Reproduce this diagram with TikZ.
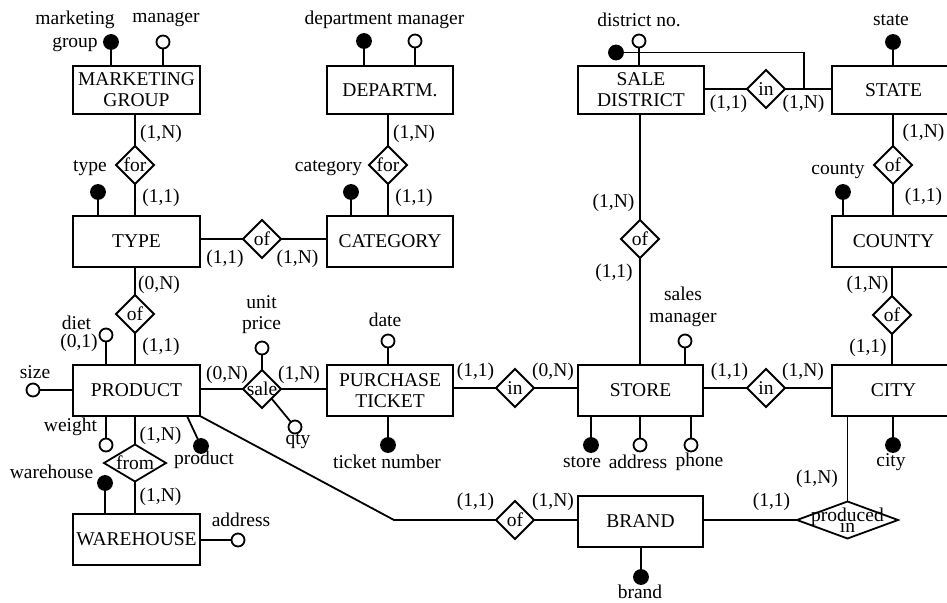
\documentclass[tikz,border=0pt]{standalone}
\usepackage{fontspec}
\setmainfont{Liberation Serif}
\usetikzlibrary{shapes.geometric}
\begin{document}
\begin{tikzpicture}[x=1pt,y=-1pt, line width=1.8pt,
  every node/.style={inner sep=0pt, outer sep=0pt},
  ent/.style={draw, rectangle, minimum width=127, minimum height=51, align=center, fill=white},
  rel/.style={draw, diamond, minimum width=38, minimum height=38, fill=white},
  keyatt/.style={draw, circle, fill=black, minimum size=14},
  att/.style={draw, circle, fill=white, minimum size=13},
  two/.style={align=center},
  font=\fontsize{19.5}{21}\selectfont]
\useasboundingbox (0,0) rectangle (947,602);
\clip (0,0) rectangle (947,602);

% ---------- entities ----------
\node[ent, minimum height=48] (mg) at (136.5,90) {MARKETING\\GROUP};
\node[ent, minimum height=48, minimum width=126] (dept) at (390,90) {DEPARTM.};
\node[ent, minimum height=48, minimum width=126] (sd) at (641,90) {SALE\\DISTRICT};
\node[ent, minimum height=48, minimum width=123] (state) at (893.5,90) {STATE};
\node[ent] (type) at (136.5,241.5) {TYPE};
\node[ent, minimum width=126] (cat) at (390,241.5) {CATEGORY};
\node[ent, minimum width=123] (county) at (893.5,241.5) {COUNTY};
\node[ent] (prod) at (136.5,390.5) {PRODUCT};
\node[ent, minimum width=126] (pt) at (390,390.5) {PURCHASE\\TICKET};
\node[ent, minimum width=125] (store) at (640.5,390.5) {STORE};
\node[ent, minimum width=123] (city) at (893.5,390.5) {CITY};
\node[ent] (wh) at (136.5,539.5) {WAREHOUSE};
\node[ent, minimum width=125] (brand) at (640.5,521.5) {BRAND};

% ---------- relationships ----------
\node[rel, label=center:for] (for1) at (135,165) {};
\node[rel, label=center:for] (for2) at (388,165) {};
\node[rel, label=center:of] (oftc) at (262,239) {};
\node[rel, label=center:in] (insd) at (766,89) {};
\node[rel, label=center:of] (ofsc) at (893,165) {};
\node[rel, label=center:of] (ofss) at (640,239) {};
\node[rel, label=center:of] (oftp) at (135,314) {};
\node[rel, label=center:of] (ofcc) at (892,315) {};
\node[rel, label=center:sale] (sale) at (262,389) {};
\node[rel, label=center:in] (inps) at (515,388) {};
\node[rel, label=center:in] (insc) at (766,388) {};
\node[rel, minimum width=62, minimum height=37, label=center:from] (from) at (135,463) {};
\node[rel, label=center:of] (ofpb) at (515,520) {};
\node[rel, minimum width=101, minimum height=37,
      label={[align=center]center:produced\\[-10pt]in}] (prin) at (847.5,520) {};

% ---------- relationship connectors ----------
\draw (for1.north) -- (for1.north |- mg.south);
\draw (for1.south) -- (for1.south |- type.north);
\draw (for2.north) -- (for2.north |- dept.south);
\draw (for2.south) -- (for2.south |- cat.north);
\draw (oftc.west) -- (oftc.west -| type.east);
\draw (oftc.east) -- (oftc.east -| cat.west);
\draw (insd.west) -- (insd.west -| sd.east);
\draw (insd.east) -- (insd.east -| state.west);
\draw (ofsc.north) -- (ofsc.north |- state.south);
\draw (ofsc.south) -- (ofsc.south |- county.north);
\draw (ofss.north) -- (ofss.north |- sd.south);
\draw (ofss.south) -- (ofss.south |- store.north);
\draw (oftp.north) -- (oftp.north |- type.south);
\draw (oftp.south) -- (oftp.south |- prod.north);
\draw (ofcc.north) -- (ofcc.north |- county.south);
\draw (ofcc.south) -- (ofcc.south |- city.north);
\draw (sale.west) -- (sale.west -| prod.east);
\draw (sale.east) -- (sale.east -| pt.west);
\draw (inps.west) -- (inps.west -| pt.east);
\draw (inps.east) -- (inps.east -| store.west);
\draw (insc.west) -- (insc.west -| store.east);
\draw (insc.east) -- (insc.east -| city.west);
\draw (from.north) -- (from.north |- prod.south);
\draw (from.south) -- (from.south |- wh.north);
\coordinate (pbend) at (394,520);
\draw (prod.south east) -- (pbend) -- (ofpb.west);
\draw (ofpb.east) -- (ofpb.east -| brand.west);
\draw (prin.west) -- (prin.west -| brand.east);
\draw (prin.north) -- (prin.north |- city.south);

% ---------- attributes ----------
% marketing group
\node[keyatt] (mgk) at (111,42) {};
\node[att] (mgm) at (163,42) {};
\draw (mgk) -- (mgk |- mg.north);
\draw (mgm) -- (mgm |- mg.north);
\node[two] (tmgk) at (75,31.5) {marketing\\[2pt]group};
\node (tmgm) at (166,20) {manager};
% department
\node[keyatt] (dk) at (364,41) {};
\node[att] (dm) at (415,41) {};
\draw (dk) -- (dk |- dept.north);
\draw (dm) -- (dm |- dept.north);
\node (tdept) at (384.5,20) {department manager};
% sale district
\node[att] (sdo) at (639,41) {};
\node[keyatt] (sdk) at (616,52.5) {};
\coordinate (sdj) at (804,89);
\draw (sdo) -- (sdo |- sd.north);
\draw (sdk) -| (sdj);
\node (tsd) at (639,20) {district no.};
% state
\node[keyatt] (stk) at (893,42) {};
\draw (stk) -- (stk |- state.north);
\node (tst) at (891,20) {state};
% type
\node[keyatt] (tyk) at (98,192) {};
\draw (tyk) -- (tyk |- type.north);
\node (tty) at (90,168) {type};
% category
\node[keyatt] (cak) at (351,192) {};
\draw (cak) -- (cak |- cat.north);
\node (tca) at (328.5,168) {category};
% county
\node[keyatt] (cok) at (843,192) {};
\draw (cok) -- (cok |- county.north);
\node (tco) at (838,171) {county};
% product
\node[att] (diet) at (106,335) {};
\draw (diet) -- (diet |- prod.north);
\node (tdiet) at (76.5,323) {diet};
\node (tdietc) at (79,343) {(0,1)};
\node[att] (size) at (33,390) {};
\draw (size) -- (size -| prod.west);
\node (tsize) at (35,372) {size};
\node[att] (weight) at (106,445) {};
\draw (weight) -- (weight |- prod.south);
\node (tweight) at (70.5,427) {weight};
\node[keyatt] (prk) at (201,446) {};
\draw ([xshift=50.5pt]prod.south) -- (prk);
\node (tprk) at (204,460) {product};
% warehouse
\node[keyatt] (whk) at (105,483) {};
\draw (whk) -- (whk |- wh.north);
\node (twhk) at (51.5,472) {warehouse};
\node[att] (wha) at (238,540) {};
\draw (wha) -- (wha -| wh.east);
\node (twha) at (241,520) {address};
% sale
\node[att] (up) at (262,348) {};
\draw (up) -- (sale.north);
\node[two] (tup) at (261.5,314.5) {unit\\price};
\node[att] (qty) at (295,427) {};
\draw (sale.south east) -- (qty);
\node (tqty) at (298,441) {qty};
% purchase ticket
\node[att] (date) at (388,341) {};
\draw (date) -- (date |- pt.north);
\node (tdate) at (385,320) {date};
\node[keyatt] (tn) at (388,445) {};
\draw (tn) -- (tn |- pt.south);
\node (ttn) at (387,462) {ticket number};
% store
\node[att] (sm) at (685,341) {};
\draw (sm) -- (sm |- store.north);
\node[two] (tsm) at (683,307) {sales\\[1pt]manager};
\node[keyatt] (stok) at (591,445) {};
\node[att] (stoa) at (640,445) {};
\node[att] (stop) at (691,445) {};
\draw (stok) -- (stok |- store.south);
\draw (stoa) -- (stoa |- store.south);
\draw (stop) -- (stop |- store.south);
\node (tstok) at (582,462) {store};
\node (tstoa) at (638,462) {address};
\node (tstop) at (699.5,462) {phone};
% city
\node[keyatt] (cik) at (893,445) {};
\draw (cik) -- (cik |- city.south);
\node (tcik) at (891,462) {city};
% brand
\node[keyatt] (brk) at (641,577) {};
\draw (brk) -- (brk |- brand.south);
\node (tbrk) at (640,592) {brand};

% ---------- cardinalities ----------
\node (c1) at (161,134) {(1,N)};
\node (c2) at (161,198) {(1,1)};
\node (c3) at (414,134) {(1,N)};
\node (c4) at (414,198) {(1,1)};
\node (c5) at (225,259) {(1,1)};
\node (c6) at (297.5,259) {(1,N)};
\node (c7) at (159,285) {(0,N)};
\node (c8) at (161,347) {(1,1)};
\node (c9) at (227,375) {(0,N)};
\node (c10) at (299,375) {(1,N)};
\node (c11) at (160.5,436) {(1,N)};
\node (c12) at (160.5,497) {(1,N)};
\node (c13) at (475.5,372) {(1,1)};
\node (c14) at (553,372) {(0,N)};
\node (c15) at (475.5,502) {(1,1)};
\node (c16) at (553,502) {(1,N)};
\node (c17) at (728.5,104) {(1,1)};
\node (c18) at (803.5,104) {(1,N)};
\node (c19) at (923.5,133) {(1,N)};
\node (c20) at (923.5,197) {(1,1)};
\node (c21) at (613.5,203) {(1,N)};
\node (c22) at (614,273) {(1,1)};
\node (c23) at (867.5,285) {(1,N)};
\node (c24) at (868,348) {(1,1)};
\node (c25) at (729.5,372) {(1,1)};
\node (c26) at (803,372) {(1,N)};
\node (c27) at (817,479) {(1,N)};
\node (c28) at (771.5,502) {(1,1)};
\end{tikzpicture}
\end{document}
